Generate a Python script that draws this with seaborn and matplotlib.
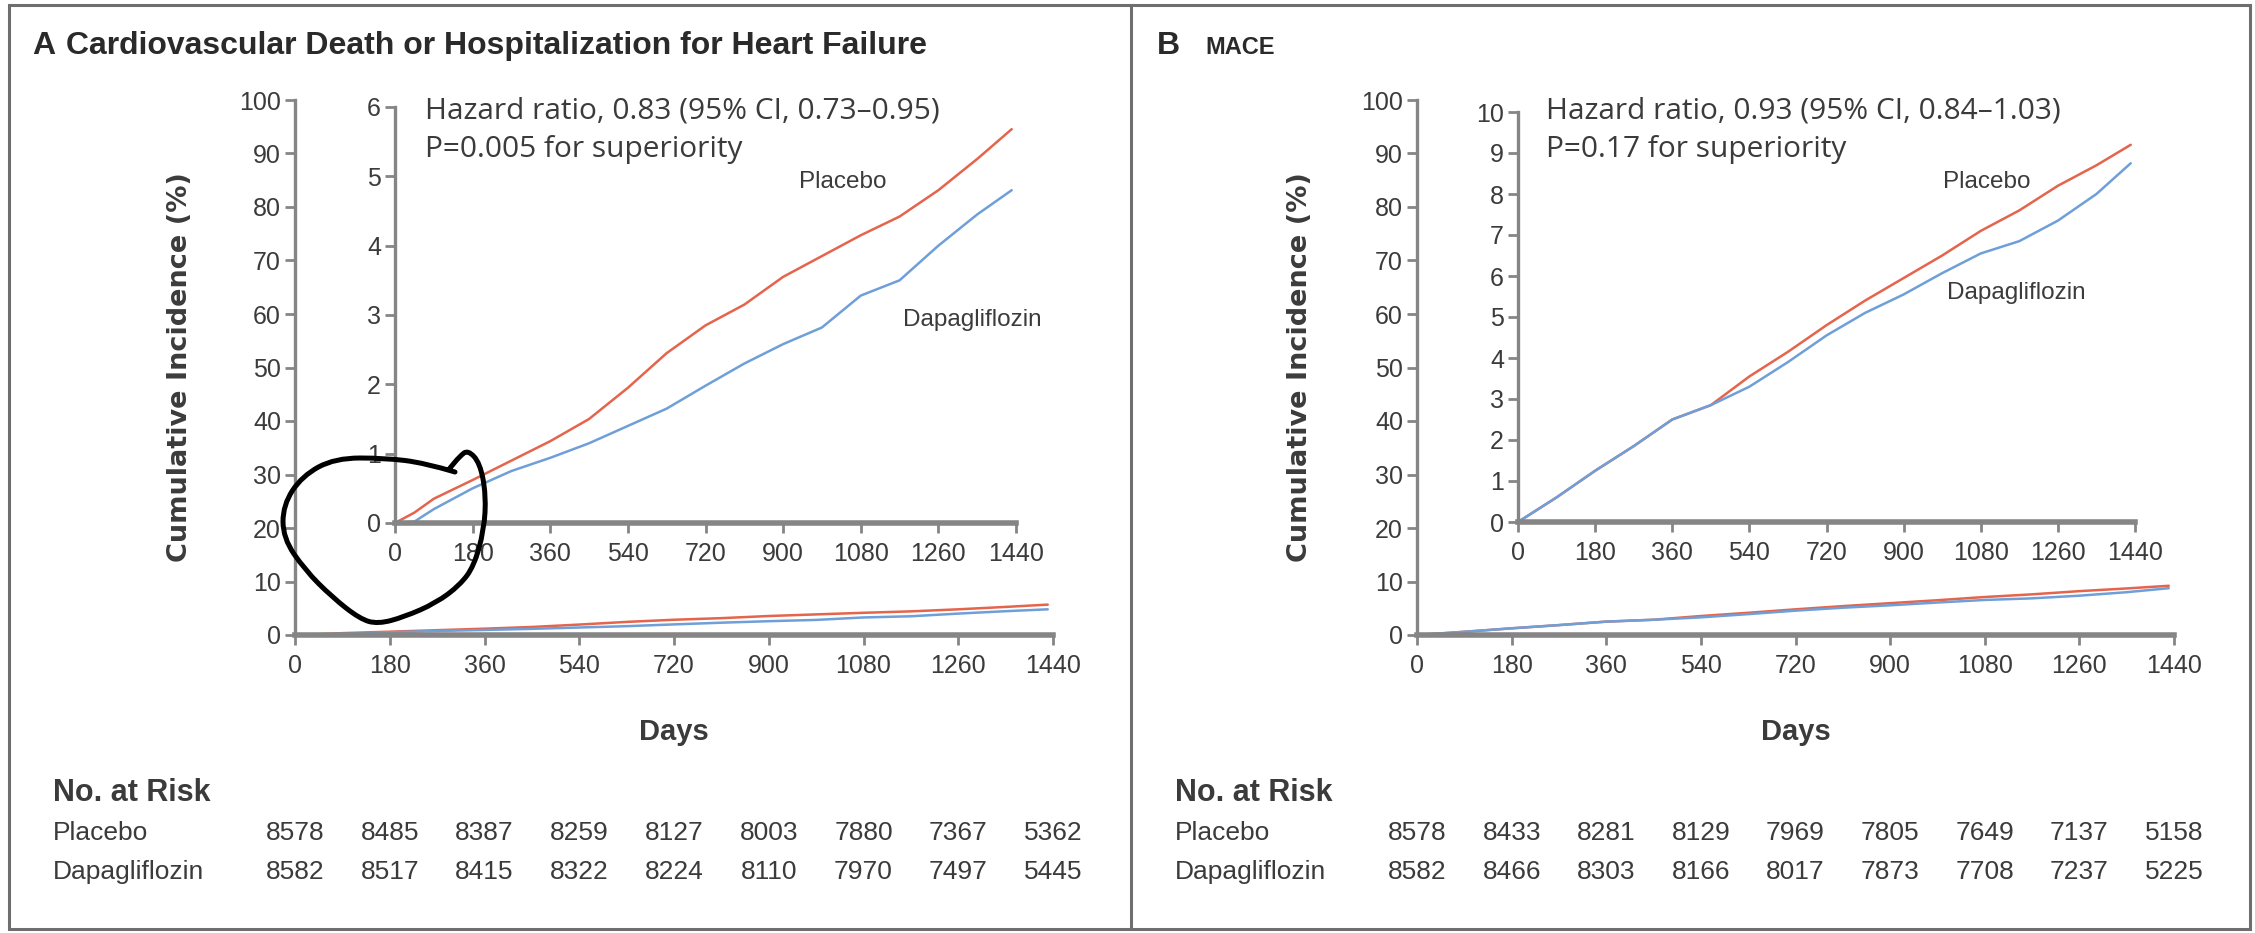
import numpy as np
import pandas as pd
import matplotlib
matplotlib.use("Agg")
import matplotlib.pyplot as plt
import seaborn as sns
from matplotlib.path import Path
from matplotlib.patches import PathPatch, Rectangle
from matplotlib.lines import Line2D
from matplotlib.transforms import blended_transform_factory

# ---- cumulative incidence (%) by study day ----
hf_days = [0, 45, 90, 180, 270, 360, 450, 540, 630, 720, 810, 900, 990, 1080, 1170, 1260, 1350, 1430]
hf_placebo = [0.0, 0.15, 0.35, 0.62, 0.90, 1.18, 1.50, 1.95, 2.45, 2.85, 3.15, 3.55, 3.85, 4.15, 4.42, 4.80, 5.25, 5.68]
hf_dapa = [0.0, 0.02, 0.20, 0.50, 0.75, 0.94, 1.15, 1.40, 1.65, 1.98, 2.30, 2.58, 2.82, 3.28, 3.50, 4.00, 4.45, 4.80]

mace_days = [0, 90, 180, 270, 360, 450, 540, 630, 720, 810, 900, 990, 1080, 1170, 1260, 1350, 1430]
mace_placebo = [0.0, 0.60, 1.25, 1.85, 2.50, 2.85, 3.55, 4.15, 4.80, 5.40, 5.95, 6.50, 7.10, 7.60, 8.20, 8.70, 9.20]
mace_dapa = [0.0, 0.60, 1.25, 1.85, 2.50, 2.85, 3.30, 3.90, 4.55, 5.10, 5.55, 6.07, 6.55, 6.85, 7.35, 8.00, 8.75]

day_ticks = [0, 180, 360, 540, 720, 900, 1080, 1260, 1440]
main_yticks = list(range(0, 101, 10))
hf_inset_yticks = list(range(0, 7))
mace_inset_yticks = list(range(0, 11))

arms = ["Placebo", "Dapagliflozin"]
hf_risk_placebo = [8578, 8485, 8387, 8259, 8127, 8003, 7880, 7367, 5362]
hf_risk_dapa = [8582, 8517, 8415, 8322, 8224, 8110, 7970, 7497, 5445]
mace_risk_placebo = [8578, 8433, 8281, 8129, 7969, 7805, 7649, 7137, 5158]
mace_risk_dapa = [8582, 8466, 8303, 8166, 8017, 7873, 7708, 7237, 5225]

hf_title = "Cardiovascular Death or Hospitalization for Heart Failure"
mace_title = "MACE"
hf_stats = ["Hazard ratio, 0.83 (95% CI, 0.73\u20130.95)", "P=0.005 for superiority"]
mace_stats = ["Hazard ratio, 0.93 (95% CI, 0.84\u20131.03)", "P=0.17 for superiority"]

# ---- styling ----
sns.set_theme(style="ticks")
plt.rcParams["font.family"] = ["Liberation Sans", "DejaVu Sans"]
RED = "#e4644c"
BLUE = "#6f9fd9"
SPINE = "#858585"
TXT = "#3b3b3b"
palette = {"Placebo": RED, "Dapagliflozin": BLUE}

W, H = 2255, 933
fig = plt.figure(figsize=(W / 100, H / 100), dpi=100)


def fx(x):
    return x / W


def fy(y):
    return 1 - y / H


def add_axes(x0, ytop, x1, ybot):
    return fig.add_axes([fx(x0), fy(ybot), (x1 - x0) / W, (ybot - ytop) / H])


def long_table(days, placebo, dapa):
    return pd.DataFrame({
        "Day": list(days) * 2,
        "Incidence": list(placebo) + list(dapa),
        "Arm": ["Placebo"] * len(days) + ["Dapagliflozin"] * len(days),
    })


def style_axes(ax, ylim, yticks, transparent=False):
    ax.set_xlim(0, 1440)
    ax.set_ylim(*ylim)
    ax.set_xticks(day_ticks)
    ax.set_yticks(yticks)
    sns.despine(ax=ax)
    ax.spines["left"].set_color(SPINE)
    ax.spines["left"].set_linewidth(2.4)
    ax.spines["bottom"].set_color(SPINE)
    ax.spines["bottom"].set_linewidth(4.0)
    ax.tick_params(axis="both", direction="out", length=7, width=2, color=SPINE,
                   labelsize=18, labelcolor=TXT, pad=3)
    ax.tick_params(axis="x", pad=7)
    ax.set_xlabel("")
    ax.set_ylabel("")
    if ax.get_legend() is not None:
        ax.get_legend().remove()
    if transparent:
        ax.patch.set_alpha(0)


def draw_panel(days, placebo, dapa, main_box, inset_box, inset_max, inset_ticks):
    data = long_table(days, placebo, dapa)
    ax = add_axes(*main_box)
    sns.lineplot(data=data, x="Day", y="Incidence", hue="Arm", hue_order=arms,
                 palette=palette, linewidth=1.8, ax=ax, legend=False)
    style_axes(ax, (0, 100), main_yticks)
    ins = add_axes(*inset_box)
    sns.lineplot(data=data, x="Day", y="Incidence", hue="Arm", hue_order=arms,
                 palette=palette, linewidth=1.8, ax=ins, legend=False)
    style_axes(ins, (0, inset_max), inset_ticks, transparent=True)
    return ax, ins


axA, insA = draw_panel(hf_days, hf_placebo, hf_dapa,
                       (295, 100, 1053, 635), (395, 107, 1016, 523), 6, hf_inset_yticks)
axB, insB = draw_panel(mace_days, mace_placebo, mace_dapa,
                       (1417, 100, 2174, 635), (1518, 112, 2135, 522), 10, mace_inset_yticks)

# panel frames
fig.add_artist(Rectangle((fx(9), fy(929)), (2250 - 9) / W, (929 - 5) / H,
                         transform=fig.transFigure, fill=False, edgecolor="#6e6e6e", linewidth=2.2))
fig.add_artist(Line2D([fx(1131), fx(1131)], [fy(5), fy(929)], transform=fig.transFigure,
                      color="#6e6e6e", linewidth=2.2))

# panel headings
fig.text(fx(32), fy(46), "A", fontsize=23, fontweight="bold", color="#2a2a2a",
         va="center", ha="left")
fig.text(fx(66), fy(46), hf_title, fontsize=23, fontweight="bold", color="#2a2a2a",
         va="center", ha="left")
fig.text(fx(1157), fy(46), "B", fontsize=23, fontweight="bold", color="#2a2a2a",
         va="center", ha="left")
fig.text(fx(1205), fy(47), mace_title, fontsize=17, fontweight="bold", color="#2a2a2a",
         va="center", ha="left")

# y-axis titles
for xpos in (180, 1300):
    fig.text(fx(xpos), fy(367), "Cumulative Incidence (%)", rotation=90, fontsize=19.5,
             fontweight="bold", color=TXT, ha="center", va="center", family=["DejaVu Sans"])

# x-axis titles
for ax in (axA, axB):
    ax.text(720, fy(732), "Days", transform=blended_transform_factory(ax.transData, fig.transFigure),
            fontsize=21, fontweight="bold", color=TXT, ha="center", va="center")

# statistics and arm labels
stat_font = ["Open Sans", "Liberation Sans", "DejaVu Sans"]
for x0, lines in ((425, hf_stats), (1546, mace_stats)):
    fig.text(fx(x0), fy(111), lines[0], fontsize=21.5, color=TXT, ha="left", va="center",
             family=stat_font)
    fig.text(fx(x0), fy(150), lines[1], fontsize=21.5, color=TXT, ha="left", va="center",
             family=stat_font)

fig.text(fx(843), fy(182), "Placebo", fontsize=17.5, color=TXT, ha="center", va="center")
fig.text(fx(972), fy(320), "Dapagliflozin", fontsize=17.5, color=TXT, ha="center", va="center")
fig.text(fx(1987), fy(182), "Placebo", fontsize=17.5, color=TXT, ha="center", va="center")
fig.text(fx(2016), fy(293), "Dapagliflozin", fontsize=17.5, color=TXT, ha="center", va="center")

# number at risk table
for ax, xlab, risk_p, risk_d in ((axA, 53, hf_risk_placebo, hf_risk_dapa),
                                 (axB, 1175, mace_risk_placebo, mace_risk_dapa)):
    fig.text(fx(xlab), fy(793), "No. at Risk", fontsize=22, fontweight="bold", color=TXT,
             ha="left", va="center")
    fig.text(fx(xlab), fy(833), arms[0], fontsize=19, color=TXT, ha="left", va="center")
    fig.text(fx(xlab), fy(872), arms[1], fontsize=19, color=TXT, ha="left", va="center")
    tr = blended_transform_factory(ax.transData, fig.transFigure)
    for d, p, q in zip(day_ticks, risk_p, risk_d):
        ax.text(d, fy(833), f"{p}", transform=tr, fontsize=19, color=TXT, ha="center", va="center")
        ax.text(d, fy(872), f"{q}", transform=tr, fontsize=19, color=TXT, ha="center", va="center")

# freehand loop marking the start of the inset curves
loop_x = [455, 425, 385, 335, 302, 283, 283, 305, 332, 360, 378, 404, 436, 460, 474, 484, 486, 480, 468, 460, 450]
loop_y = [472, 463, 458, 458, 476, 505, 538, 570, 597, 619, 624, 617, 603, 585, 566, 530, 495, 463, 450, 456, 468]
pts = np.column_stack([[fx(v) for v in loop_x], [fy(v) for v in loop_y]])
verts = [pts[0]]
codes = [Path.MOVETO]
for i in range(1, len(pts) - 1):
    mid = (pts[i] + pts[i + 1]) / 2
    verts += [pts[i], mid]
    codes += [Path.CURVE3, Path.CURVE3]
verts.append(pts[-1])
codes.append(Path.LINETO)
fig.add_artist(PathPatch(Path(verts, codes), transform=fig.transFigure, fill=False,
                         edgecolor="black", linewidth=3.6, capstyle="round", joinstyle="round"))

fig.savefig("out.png", dpi=100, facecolor="white")
